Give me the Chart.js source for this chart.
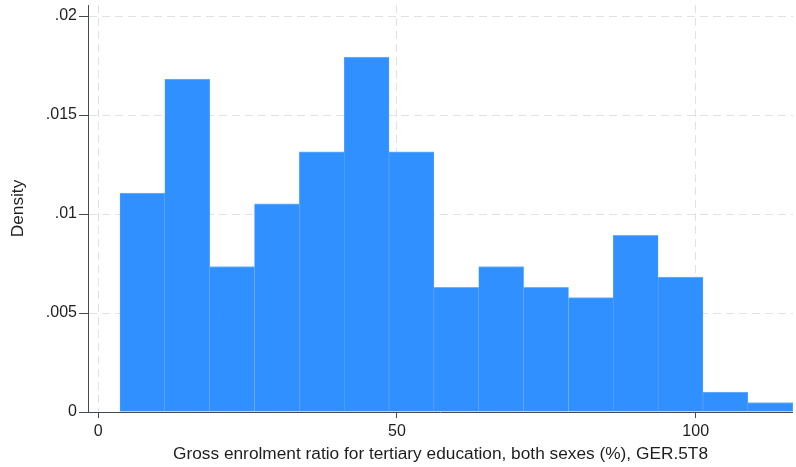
<!DOCTYPE html>
<html>
<head>
<meta charset="utf-8">
<script src="https://cdn.jsdelivr.net/npm/chart.js@4"></script>
<style>
  html, body { margin: 0; padding: 0; background: #ffffff; }
  #wrap { width: 796px; height: 467px; }
</style>
</head>
<body>
<div id="wrap"><canvas id="c" width="796" height="467"></canvas></div>
<script>
// Bin centres (GER.5T8, %) and histogram densities
const binCenters = [7.38, 14.89, 22.40, 29.91, 37.41, 44.92, 52.43, 59.93, 67.44, 74.95, 82.46, 89.96, 97.47, 104.98, 112.49];
const densities  = [0.01106, 0.01682, 0.00735, 0.01052, 0.01314, 0.01792, 0.01314, 0.00630, 0.00735, 0.00630, 0.00578, 0.00892, 0.00681, 0.00100, 0.00048];
const xTickValues = [0, 50, 100];
const xTickLabels = ["0", "50", "100"];
const yTickValues = [0, 0.005, 0.01, 0.015, 0.02];
const yTickLabels = ["0", ".005", ".01", ".015", ".02"];
const xTitle = "Gross enrolment ratio for tertiary education, both sexes (%), GER.5T8";
const yTitle = "Density";

const FONT = "'Liberation Sans', Arial, Helvetica, sans-serif";
const TEXT = "#1e1e1e";
const AXIS = "#444a52";
const GRID = "#e2e2e2";

const axisOnTop = {
  id: 'axisOnTop',
  afterDatasetsDraw(chart) {
    const {ctx, chartArea} = chart;
    ctx.save();
    ctx.strokeStyle = AXIS;
    ctx.lineWidth = 1;
    ctx.beginPath();
    ctx.moveTo(chartArea.left, Math.round(chartArea.bottom) + 0.5);
    ctx.lineTo(chartArea.right, Math.round(chartArea.bottom) + 0.5);
    ctx.stroke();
    ctx.restore();
  }
};

new Chart(document.getElementById('c'), {
  type: 'bar',
  data: {
    datasets: [{
      data: binCenters.map((x, i) => ({x: x, y: densities[i]})),
      backgroundColor: '#3190ff',
      borderColor: '#6fb1ff',
      borderWidth: {top: 1, left: 0.5, right: 0.5, bottom: 0},
      borderSkipped: false,
      barPercentage: 1,
      categoryPercentage: 1
    }]
  },
  options: {
    responsive: false,
    animation: false,
    devicePixelRatio: 1,
    layout: { padding: { top: 5, right: 3, left: 0, bottom: 0 } },
    plugins: { legend: { display: false }, tooltip: { enabled: false } },
    scales: {
      x: {
        type: 'linear',
        offset: false,
        min: -1.724,
        max: 116.29,
        afterBuildTicks: (s) => { s.ticks = xTickValues.map(v => ({value: v})); },
        afterFit: (s) => { s.height = 55; s.paddingLeft = 0; s.paddingRight = 0; },
        ticks: {
          callback: (v) => xTickLabels[xTickValues.indexOf(v)],
          font: { family: FONT, size: 16 },
          color: TEXT,
          padding: 4,
          maxRotation: 0,
          autoSkip: false
        },
        grid: {
          offset: false,
          color: GRID,
          lineWidth: 1,
          tickColor: AXIS,
          tickLength: 6,
          tickBorderDash: []
        },
        border: { display: false, dash: [8, 5] },
        title: {
          display: true,
          text: xTitle,
          font: { family: FONT, size: 17.3 },
          color: TEXT,
          padding: { top: 0, bottom: 2.5 }
        }
      },
      y: {
        min: 0,
        max: 0.020556,
        afterBuildTicks: (s) => { s.ticks = yTickValues.map(v => ({value: v})); },
        afterFit: (s) => { s.width = 88; s.paddingTop = 0; s.paddingBottom = 0; },
        ticks: {
          callback: (v) => yTickLabels[yTickValues.indexOf(v)],
          font: { family: FONT, size: 16 },
          color: TEXT,
          padding: 2,
          autoSkip: false
        },
        grid: {
          color: (ctx) => (ctx.tick && ctx.tick.value === 0) ? 'rgba(0,0,0,0)' : GRID,
          lineWidth: 1,
          tickColor: AXIS,
          tickLength: 9,
          tickBorderDash: []
        },
        border: { display: true, color: AXIS, width: 1, dash: [8, 5] },
        title: {
          display: true,
          text: yTitle,
          font: { family: FONT, size: 17.3 },
          color: TEXT,
          padding: { top: 8, bottom: 0 }
        }
      }
    }
  },
  plugins: [axisOnTop]
});
</script>
</body>
</html>
